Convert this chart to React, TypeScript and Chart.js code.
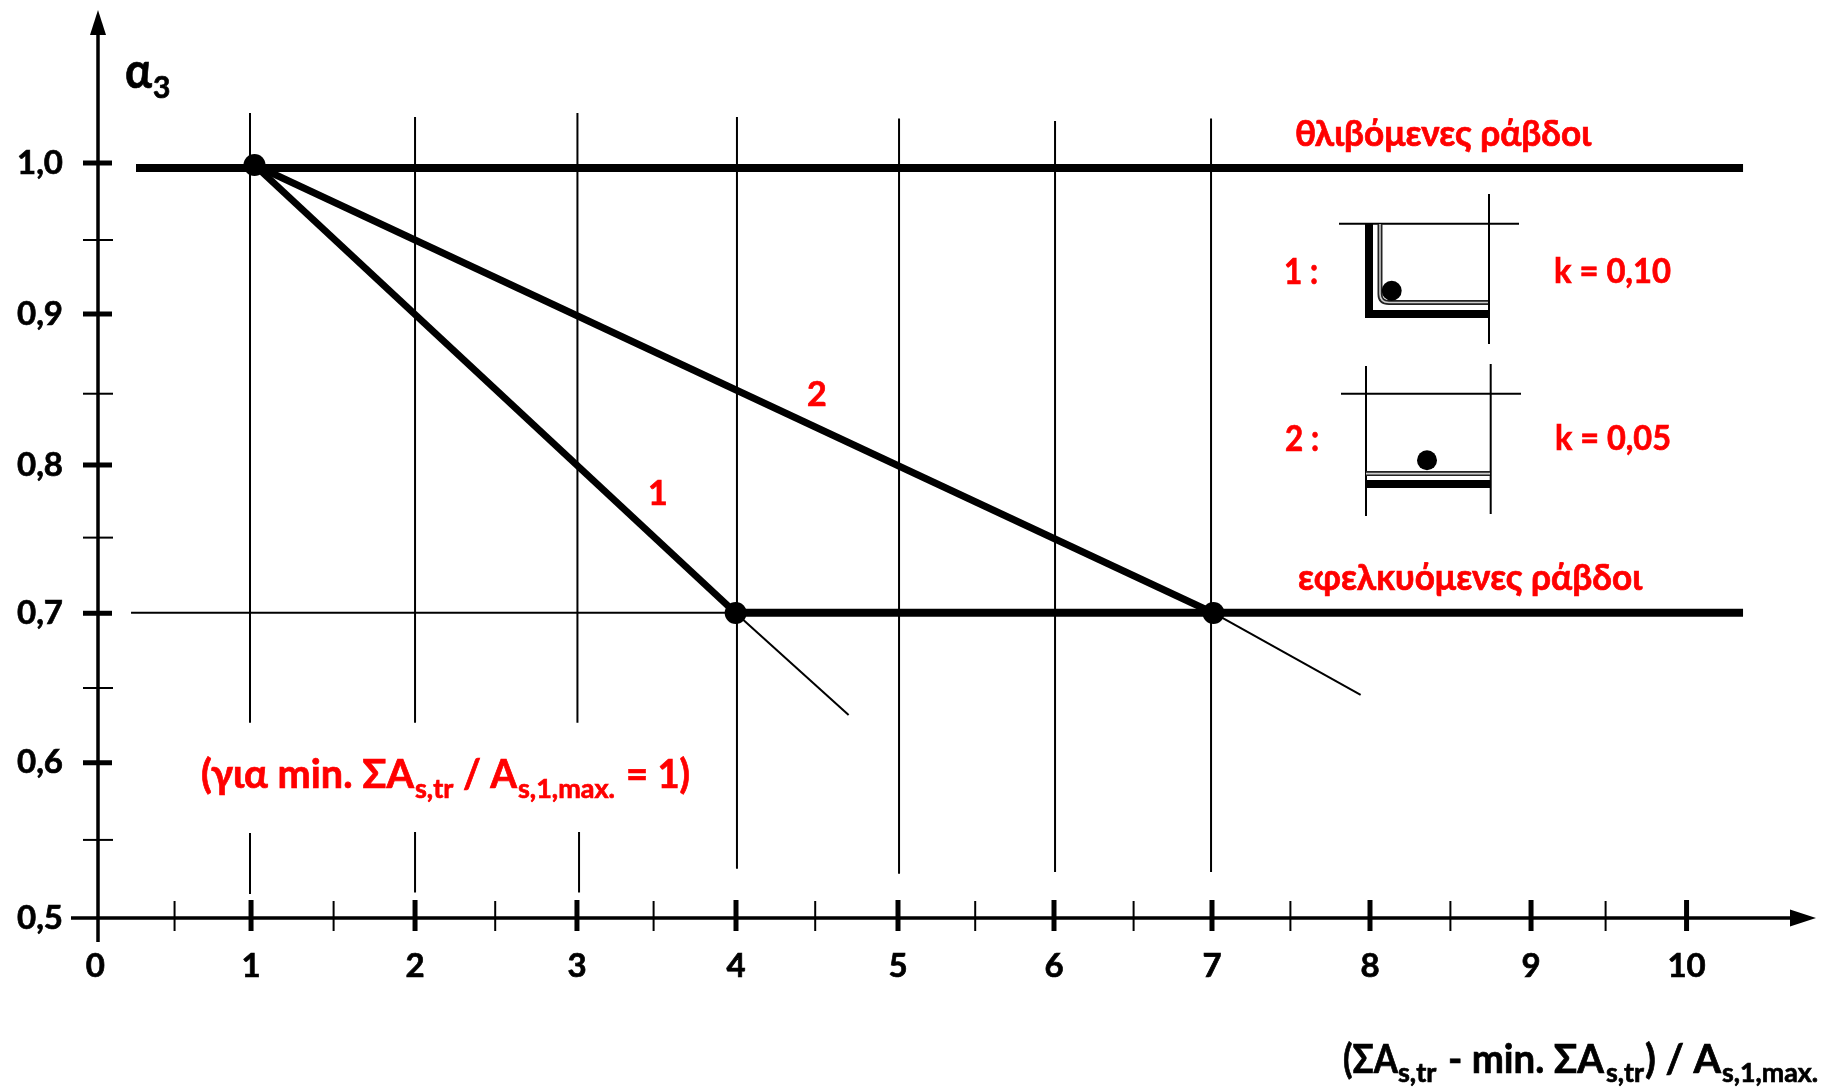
import React, { useEffect, useRef } from "react";
import { Chart, registerables } from "chart.js";

Chart.register(...registerables);

const xMajorTicks = [0.02, 0.994, 2.019, 3.031, 4.025, 5.0375, 6.0125, 7.0, 7.9875, 8.994, 9.966];
const xTickLabels = ["0", "1", "2", "3", "4", "5", "6", "7", "8", "9", "10"];
const xMinorTicks = [0.516, 1.51, 2.52, 3.51, 4.52, 5.52, 6.51, 7.49, 8.49, 9.46];
const yMajorTicks = [1.0, 0.9, 0.8, 0.7018, 0.6028, 0.5];
const yTickLabels = ["1,0", "0,9", "0,8", "0,7", "0,6", "0,5"];
const yMinorTicks = [0.949, 0.8472, 0.7519, 0.6523, 0.5517];

// Heavy limit lines
const compressionX = [0.275, 10.319];
const compressionY = [0.9967, 0.9967];
const tensionX = [4.023, 10.319];
const tensionY = [0.7022, 0.7022];
const curve1X = [1.0156, 4.023];
const curve1Y = [0.9987, 0.702];
const curve2X = [1.0156, 7.009];
const curve2Y = [0.9987, 0.702];

// Thin continuation lines
const tail1X = [4.023, 4.729];
const tail1Y = [0.702, 0.6344];
const tail2X = [7.009, 7.929];
const tail2Y = [0.702, 0.6477];
const refLineX = [0.244, 4.023];
const refLineY = [0.7022, 0.7022];

// Break points
const kneeX = [1.0156, 4.023, 7.009];
const kneeY = [0.9987, 0.702, 0.702];

// Vertical grid strokes (they are interrupted around the note)
const gridX = [0.9875, 2.019, 3.034, 4.031, 5.044, 6.019, 6.994];
const gridTop = [1.0331, 1.0305, 1.0331, 1.0305, 1.0295, 1.0278, 1.0295];
const gridEnd = [0.6293, 0.6293, 0.6293, 0.5326, 0.5293, 0.5305, 0.5305];
const gridLowerX = [0.9875, 2.019, 3.044];
const gridLowerTop = [0.5563, 0.557, 0.557];
const gridLowerEnd = [0.5159, 0.5168, 0.5168];

const FONT = '"Lato", "Noto Sans", sans-serif';
const RED = "#ff0000";

const zip = (xs: number[], ys: number[]) => xs.map((x, i) => ({ x, y: ys[i] }));
const stroke = (label: string, xs: number[], ys: number[], w: number) => ({
  label,
  data: zip(xs, ys),
  showLine: true,
  borderColor: "#000",
  backgroundColor: "#000",
  borderWidth: w,
  pointRadius: 0,
});

const drawing = {
  id: "drawing",
  afterDatasetsDraw(chart: any) {
    const c = chart.ctx as CanvasRenderingContext2D;
    const sx = chart.scales.x;
    const sy = chart.scales.y;
    const seg = (x0: number, y0: number, x1: number, y1: number, w: number, col = "#000") => {
      c.strokeStyle = col;
      c.lineWidth = w;
      c.beginPath();
      c.moveTo(x0, y0);
      c.lineTo(x1, y1);
      c.stroke();
    };
    const txt = (t: string, x: number, y: number, size: number, col: string, w?: number) => {
      c.font = `bold ${size}px ${FONT}`;
      c.fillStyle = col;
      c.strokeStyle = col;
      c.lineWidth = 0.7;
      c.textAlign = "left";
      c.textBaseline = "alphabetic";
      if (w) {
        c.fillText(t, x, y, w);
        c.strokeText(t, x, y, w);
      } else {
        c.fillText(t, x, y);
        c.strokeText(t, x, y);
      }
    };
    c.save();

    // Axes, crossing at 0 / 0,5
    const ax = sx.getPixelForValue(0.0375);
    const ay = sy.getPixelForValue(0.5);
    seg(ax, 942, ax, 30, 3.5);
    seg(71, ay, 1795, ay, 3.5);
    c.fillStyle = "#000";
    c.beginPath();
    c.moveTo(ax, 10);
    c.lineTo(ax + 8, 35);
    c.lineTo(ax - 8, 35);
    c.closePath();
    c.fill();
    c.beginPath();
    c.moveTo(1816, ay);
    c.lineTo(1790, ay - 8.5);
    c.lineTo(1790, ay + 8.5);
    c.closePath();
    c.fill();

    // Tick marks straddling the axes
    xMajorTicks.slice(1).forEach((v) => {
      const p = sx.getPixelForValue(v);
      seg(p, 900, p, 931, 5);
    });
    xMinorTicks.forEach((v) => {
      const p = sx.getPixelForValue(v);
      seg(p, 901, p, 931, 2);
    });
    yMajorTicks.slice(0, 5).forEach((v) => {
      const p = sy.getPixelForValue(v);
      seg(83, p, 112, p, 5);
    });
    yMinorTicks.forEach((v) => {
      const p = sy.getPixelForValue(v);
      seg(83, p, 113, p, 2);
    });

    // Cross-section sketch 1
    seg(1339, 223.7, 1519, 223.7, 2);
    seg(1489, 194, 1489, 344, 2);
    c.fillStyle = "#000";
    c.fillRect(1365, 224, 8, 94);
    c.fillRect(1365, 310, 124, 8);
    const stirrup1 = () => {
      c.beginPath();
      c.moveTo(1380, 224);
      c.lineTo(1380, 294);
      c.quadraticCurveTo(1380, 302.5, 1389, 302.5);
      c.lineTo(1488, 302.5);
      c.stroke();
    };
    c.strokeStyle = "#222";
    c.lineWidth = 5;
    stirrup1();
    c.strokeStyle = "#ccc";
    c.lineWidth = 1.6;
    stirrup1();
    c.beginPath();
    c.arc(1391.7, 290.7, 10, 0, Math.PI * 2);
    c.fill();

    // Cross-section sketch 2
    seg(1366, 366, 1366, 516, 2);
    seg(1490.7, 364, 1490.7, 514, 2);
    seg(1341, 393.7, 1521, 393.7, 2);
    c.fillStyle = "#000";
    c.fillRect(1366, 480, 125, 8);
    seg(1366, 473.6, 1490, 473.6, 5, "#222");
    seg(1366, 473.6, 1490, 473.6, 1.6, "#ccc");
    c.beginPath();
    c.arc(1427, 460.3, 10, 0, Math.PI * 2);
    c.fill();

    // Axis titles
    txt("α", 125, 88, 50, "#000", 27);
    txt("3", 153, 98, 30, "#000");
    txt("(ΣA", 1343, 1072.7, 40, "#000", 55);
    txt("s,tr", 1398, 1081.7, 27, "#000", 40);
    txt("- min. ΣA", 1448, 1072.7, 40, "#000", 156);
    txt("s,tr", 1606, 1081.7, 27, "#000", 38);
    txt(") / A", 1645, 1072.7, 40, "#000", 76);
    txt("s,1,max.", 1722, 1081.7, 27, "#000", 96);

    // Red annotations
    txt("θλιβόμενες ράβδοι", 1295, 146, 36, RED, 296);
    txt("εφελκυόμενες ράβδοι", 1298, 590, 36, RED, 344);
    txt("1 :", 1284, 284, 36, RED, 34);
    txt("k = 0,10", 1554, 283, 34, RED, 117);
    txt("2 :", 1285, 451, 36, RED, 34);
    txt("k = 0,05", 1555, 450, 34, RED, 116);
    txt("1", 648, 505, 34, RED);
    txt("2", 807, 406, 34, RED);
    txt("(για min. ΣA", 201, 788, 40, RED, 213);
    txt("s,tr", 415, 798, 27, RED, 39);
    txt("/ A", 463, 788, 40, RED, 54);
    txt("s,1,max.", 518, 798, 27, RED, 97);
    txt("= 1)", 626, 788, 40, RED, 64);
    c.restore();
  },
};

export default function App() {
  const ref = useRef<HTMLCanvasElement | null>(null);

  useEffect(() => {
    if (!ref.current) return;
    const datasets: any[] = [
      {
        label: "break points",
        data: zip(kneeX, kneeY),
        showLine: false,
        pointRadius: 11,
        pointBackgroundColor: "#000",
        pointBorderWidth: 0,
      },
      stroke("θλιβόμενες ράβδοι", compressionX, compressionY, 8),
      stroke("εφελκυόμενες ράβδοι", tensionX, tensionY, 8),
      stroke("1", curve1X, curve1Y, 7),
      stroke("2", curve2X, curve2Y, 7),
      stroke("tail 1", tail1X, tail1Y, 2),
      stroke("tail 2", tail2X, tail2Y, 2),
      stroke("0,7 reference", refLineX, refLineY, 2),
      ...gridX.map((x, i) => stroke(`grid ${i + 1}`, [x, x], [gridTop[i], gridEnd[i]], 2)),
      ...gridLowerX.map((x, i) =>
        stroke(`grid lower ${i + 1}`, [x, x], [gridLowerTop[i], gridLowerEnd[i]], 2)
      ),
    ];
    const clearPadding = (s: any) => {
      s.paddingLeft = 0;
      s.paddingRight = 0;
      s.paddingTop = 0;
      s.paddingBottom = 0;
    };
    const chart = new Chart(ref.current, {
      type: "scatter",
      data: { datasets },
      plugins: [drawing],
      options: {
        animation: false,
        responsive: false,
        events: [],
        layout: { autoPadding: false, padding: { top: 5, right: 2, left: 0, bottom: 0 } },
        plugins: { legend: { display: false }, tooltip: { enabled: false } },
        scales: {
          x: {
            type: "linear",
            min: -0.13125,
            max: 10.8,
            border: { display: false },
            grid: { display: false, drawTicks: false },
            afterFit: (s: any) => {
              s.height = 145;
              clearPadding(s);
            },
            afterBuildTicks: (s: any) => {
              s.ticks = xMajorTicks.map((value) => ({ value }));
            },
            ticks: {
              autoSkip: false,
              maxRotation: 0,
              padding: 2,
              color: "#000",
              textStrokeColor: "#000",
              textStrokeWidth: 0.7,
              font: { family: FONT, size: 33, weight: "bold" },
              callback: (_v: any, i: number) => xTickLabels[i],
            },
          },
          y: {
            type: "linear",
            min: 0.4821,
            max: 1.10464,
            border: { display: false },
            grid: { display: false, drawTicks: false },
            afterFit: (s: any) => {
              s.width = 71;
              clearPadding(s);
            },
            afterBuildTicks: (s: any) => {
              s.ticks = yMajorTicks.map((value) => ({ value }));
            },
            ticks: {
              autoSkip: false,
              padding: 8,
              color: "#000",
              textStrokeColor: "#000",
              textStrokeWidth: 0.7,
              font: { family: FONT, size: 33, weight: "bold" },
              callback: (_v: any, i: number) => yTickLabels[i],
            },
          },
        },
      },
    } as any);
    return () => chart.destroy();
  }, []);

  return (
    <div style={{ position: "absolute", left: 0, top: 0, width: 1822, height: 1090, background: "#fff" }}>
      <canvas ref={ref} width={1822} height={1090} style={{ display: "block" }} />
    </div>
  );
}
